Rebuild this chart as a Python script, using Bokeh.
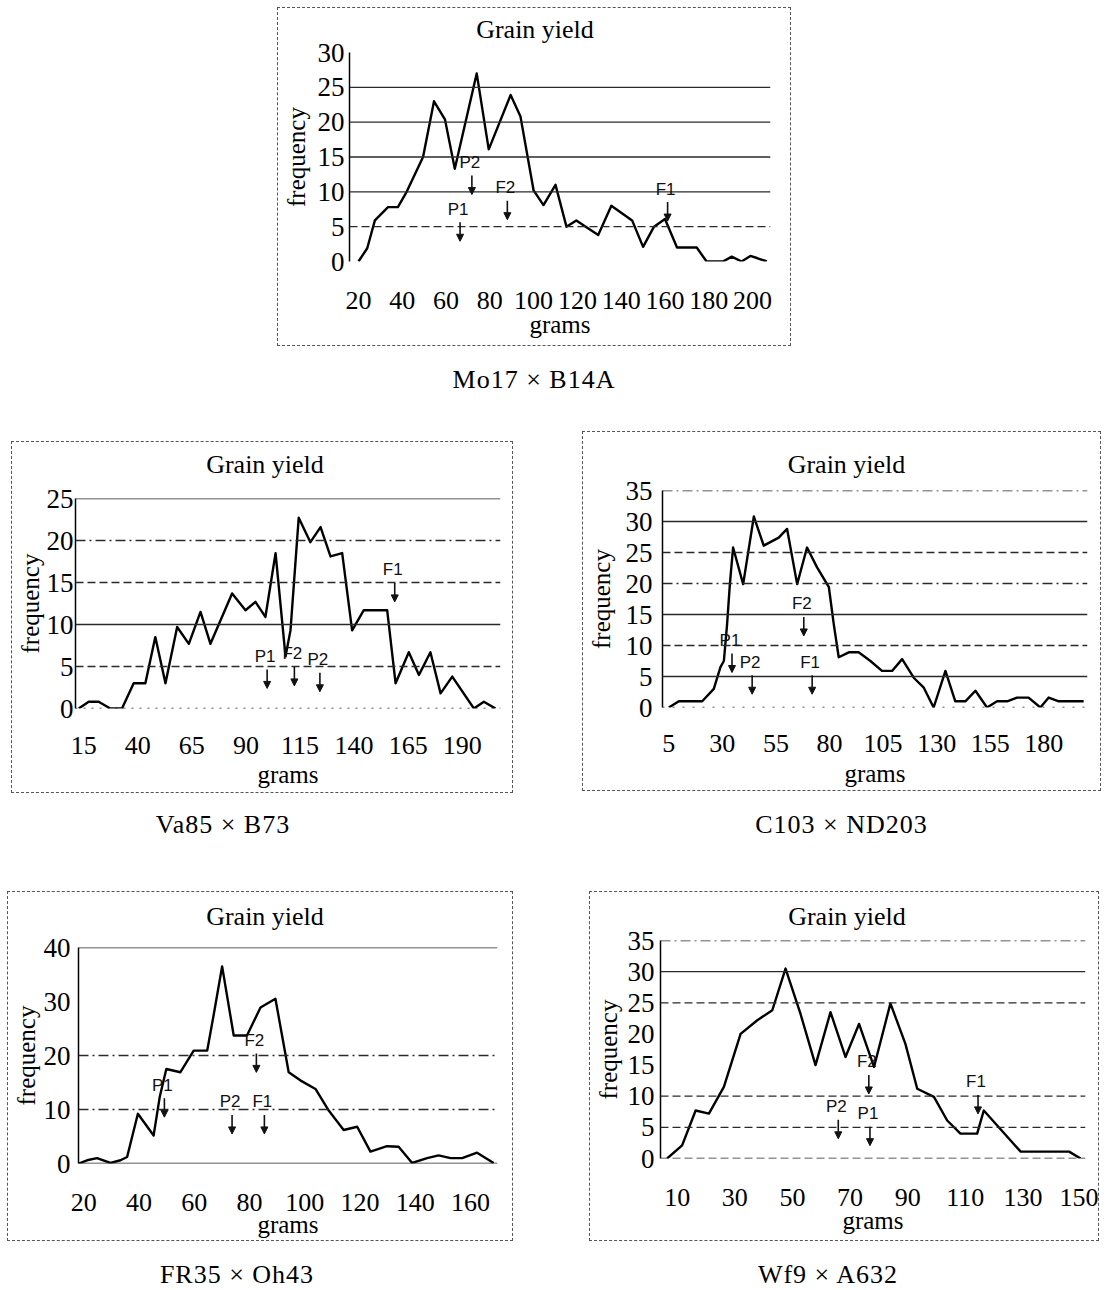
from bokeh.plotting import figure
from bokeh.models import (Range1d, FixedTicker, Span, Arrow, NormalHead,
                          LabelSet, Div, Spacer, ColumnDataSource)
from bokeh.layouts import column, row
from bokeh.core.properties import value
from bokeh.embed import file_html
from bokeh.resources import INLINE

TITLE = "Grain yield"
X_LABEL = "grams"
Y_LABEL = "frequency"

# ---------------- data ----------------
# Panel 1: Mo17 x B14A
p1_cross = "Mo17 × B14A"
p1_grams = [20, 24, 27.5, 33.5, 38, 42, 49.5, 54.5, 59.5, 64, 74, 79.5, 89.5, 94,
            100, 104.5, 110, 115, 119.5, 129.5, 135.5, 145, 150, 155, 160, 165.5,
            174.5, 179, 186.5, 190.5, 195, 199, 202, 206.5]
p1_freq = [0, 1.9, 5.9, 7.8, 7.8, 10, 15, 23, 20.4, 13.3, 27, 16.1, 23.9, 20.8,
           10.2, 8.1, 11, 5, 5.9, 3.8, 8, 5.9, 2.1, 5, 6.1, 2,
           2, 0, 0, 0.7, 0, 0.8, 0.5, 0]
p1_xticks = [20, 40, 60, 80, 100, 120, 140, 160, 180, 200]
p1_yticks = [0, 5, 10, 15, 20, 25, 30]
p1_marks = ["P2", "P1", "F2", "F1"]
p1_mark_grams = [71.8, 66.4, 88.0, 161.2]
p1_mark_freq = [14.2, 7.5, 10.6, 10.4]

# Panel 2: Va85 x B73
p2_cross = "Va85 × B73"
p2_grams = [12.7, 17.3, 21.9, 27.3, 32.7, 38.1, 43.5, 48.1, 52.8, 58.2, 63.6, 69,
            73.6, 83.6, 89.8, 94.4, 99, 103.7, 108.3, 110.6, 114.4, 119.8, 124.5,
            129.1, 134.5, 139.1, 144.5, 155.3, 159.2, 165.3, 170, 175.3, 180,
            185.4, 195.4, 200, 205.4]
p2_freq = [0, 0.8, 0.8, 0, 0, 3, 3, 8.5, 3, 9.7, 7.7, 11.5,
           7.7, 13.7, 11.7, 12.7, 10.9, 18.5, 6.2, 9.3, 22.7, 19.8, 21.6,
           18.1, 18.5, 9.3, 11.7, 11.7, 3, 6.7, 4, 6.7, 1.8,
           3.8, 0, 0.8, 0]
p2_xticks = [15, 40, 65, 90, 115, 140, 165, 190]
p2_yticks = [0, 5, 10, 15, 20, 25]
p2_marks = ["F1", "P1", "F2", "P2"]
p2_mark_grams = [158.8, 99.8, 112.4, 124.2]
p2_mark_freq = [16.5, 6.2, 6.5, 5.8]

# Panel 3: C103 x ND203
p3_cross = "C103 × ND203"
p3_grams = [5, 9.7, 20.6, 26, 29.1, 30.7, 32.2, 33.5, 35, 39.7, 44.7, 49.3, 56.3,
            60.2, 64.9, 69.5, 74.2, 79.7, 82, 84.3, 89, 93.6, 99.1, 104.5, 109.2,
            113.9, 119.3, 124, 128.6, 134.1, 138.7, 143.4, 148.1, 153.5, 158.2,
            162.9, 167.5, 172.9, 178.4, 182.3, 187, 198.6]
p3_freq = [0, 1, 1, 3, 6.5, 7.5, 13.4, 19.9, 25.8, 19.9, 30.8, 26.1, 27.4,
           28.8, 19.9, 25.8, 22.6, 19.4, 13.4, 8.1, 8.9, 8.9, 7.5, 5.9, 5.9,
           7.8, 4.8, 3.2, 0, 5.9, 1, 1, 2.7, 0, 1,
           1, 1.6, 1.6, 0, 1.6, 1, 1]
p3_xticks = [5, 30, 55, 80, 105, 130, 155, 180]
p3_yticks = [0, 5, 10, 15, 20, 25, 30, 35]
p3_marks = ["P1", "P2", "F2", "F1"]
p3_mark_grams = [34.5, 43.9, 68.0, 71.9]
p3_mark_freq = [10.8, 7.3, 16.7, 7.3]

# Panel 4: FR35 x Oh43
p4_cross = "FR35 × Oh43"
p4_grams = [18.2, 21.2, 24.8, 29.7, 33.3, 35.7, 39.6, 45.3, 47.5, 49.9, 55, 59.8,
            64.7, 67.1, 70.1, 74.3, 79.1, 84, 89.4, 94.2, 98.4, 103.9, 108.7,
            114.1, 119, 123.8, 129.8, 134, 138.9, 144.3, 148.5, 152.8, 157,
            162.4, 168.4]
p4_freq = [0, 0.6, 1, 0.1, 0.6, 1.2, 9.2, 5.2, 12.3, 17.5, 16.9, 20.9,
           20.9, 27.7, 36.5, 23.7, 23.7, 28.9, 30.5, 16.9, 15.4, 13.8, 9.8,
           6.2, 6.8, 2.2, 3.2, 3.1, 0.1, 1, 1.5, 1, 1,
           2, 0.1]
p4_xticks = [20, 40, 60, 80, 100, 120, 140, 160]
p4_yticks = [0, 10, 20, 30, 40]
p4_marks = ["P1", "F2", "P2", "F1"]
p4_mark_grams = [49.2, 82.5, 73.7, 85.4]
p4_mark_freq = [14.5, 22.8, 11.4, 11.4]

# Panel 5: Wf9 x A632
p5_cross = "Wf9 × A632"
p5_grams = [6.5, 11.7, 16.4, 21, 26.2, 32, 37.8, 43, 47.6, 52.8, 58, 63.2, 68.4,
            73.1, 78.3, 84, 89.2, 93.3, 99.1, 103.7, 108.3, 114.1, 116.4, 129.2,
            146, 150]
p5_freq = [0, 2.1, 7.7, 7.2, 11.5, 20, 22.2, 23.8, 30.5, 23.2, 15, 23.5, 16.3,
           21.6, 14.7, 24.9, 18.4, 11.2, 9.9, 6.1, 4, 4, 7.7, 1.1,
           1.1, 0]
p5_xticks = [10, 30, 50, 70, 90, 110, 130, 150]
p5_yticks = [0, 5, 10, 15, 20, 25, 30, 35]
p5_marks = ["F2", "P2", "P1", "F1"]
p5_mark_grams = [76.5, 65.9, 76.9, 114.4]
p5_mark_freq = [15.5, 8.3, 7.2, 12.3]

# ---------------- presentation ----------------
SERIF = "Liberation Serif"
SANS = "Liberation Sans"
DASH = "8 4"
DASHDOT = "10 4 2 4"
FIG_TOP = 16   # room above the frame kept inside the figure itself


def make_panel(grams, freq, xticks, yticks, marks, mark_x, mark_y, geo):
    W, H, bl, br, bt, bb = geo["size"]
    x0, x1 = geo["xr"]
    ymax = yticks[-1]
    fh = H - bt - bb
    div_h = bt - FIG_TOP
    p = figure(width=W, height=H - div_h, x_range=Range1d(x0, x1),
               y_range=Range1d(0, ymax),
               output_backend="svg", toolbar_location=None,
               min_border_left=bl, min_border_right=br,
               min_border_top=FIG_TOP, min_border_bottom=bb,
               background_fill_color="white", border_fill_alpha=0)
    p.outline_line_color = None
    p.xgrid.visible = False
    p.ygrid.visible = False

    for lvl, dash in geo["grid"]:
        p.add_layout(Span(location=lvl, dimension="width", line_color="#2a2a2a",
                          line_width=1.3, line_dash=dash))

    p.line(grams, freq, line_color="black", line_width=2.4, line_join="round")

    xa = p.xaxis[0]
    xa.ticker = FixedTicker(ticks=xticks)
    xa.axis_line_color = None
    xa.major_tick_line_color = None
    xa.minor_tick_line_color = None
    xa.major_tick_out = 0
    xa.major_tick_in = 0
    xa.major_label_text_font = SERIF
    xa.major_label_text_font_size = "26px"
    xa.major_label_text_color = "black"
    xa.major_label_standoff = geo["xstand"]
    xa.axis_label = X_LABEL
    xa.axis_label_text_font = SERIF
    xa.axis_label_text_font_size = "25px"
    xa.axis_label_text_font_style = "normal"
    xa.axis_label_text_color = "black"
    xa.axis_label_standoff = geo["xlstand"]

    ya = p.yaxis[0]
    ya.ticker = FixedTicker(ticks=yticks)
    ya.axis_line_color = "black"
    ya.axis_line_width = 1.5
    ya.major_tick_line_color = None
    ya.minor_tick_line_color = None
    ya.major_tick_out = 0
    ya.major_tick_in = 0
    ya.major_label_text_font = SERIF
    ya.major_label_text_font_size = "27px"
    ya.major_label_text_color = "black"
    ya.major_label_standoff = geo["ystand"]
    ya.axis_label = Y_LABEL
    ya.axis_label_text_font = SERIF
    ya.axis_label_text_font_size = "25px"
    ya.axis_label_text_font_style = "normal"
    ya.axis_label_text_color = "black"
    ya.axis_label_standoff = geo["ylstand"]

    # parent / generation mean markers
    ppu = fh / ymax
    src = ColumnDataSource(dict(
        name=marks, x=mark_x, y=mark_y,
        ys=[v - 13 / ppu for v in mark_y],
        ye=[v - 32 / ppu for v in mark_y]))
    p.add_layout(LabelSet(x="x", y="y", text="name", source=src,
                          text_align="center", text_baseline="middle",
                          text_font=value(SANS), text_font_size=value("17px"),
                          text_color="#111", x_offset=-2))
    p.add_layout(Arrow(x_start="x", y_start="ys", x_end="x", y_end="ye", source=src,
                       line_width=1.6, line_color="#111",
                       end=NormalHead(size=7, fill_color="#111", line_color="#111")))

    title = Div(text=TITLE, width=W, height=div_h, margin=0,
                styles={"font-family": SERIF, "font-size": "26px",
                        "text-align": "center", "color": "black",
                        "line-height": f"{2 * geo['title_c']}px",
                        "text-indent": f"{2 * geo['title_dx']}px",
                        "white-space": "nowrap"})
    return column(title, p, spacing=0,
                  styles={"outline": "1px dashed #555"})


geo1 = dict(size=(512, 337, 71, 20, 44, 84), xr=(15.9, 208.2), xstand=30, xlstand=-1,
            ystand=5, ylstand=5, title_c=22, title_dx=1,
            grid=[(5, DASH), (10, "solid"), (15, "solid"), (20, "solid"), (25, "solid")])
geo2 = dict(size=(500, 350, 63, 12, 56, 84), xr=(11.2, 207.7), xstand=28, xlstand=4,
            ystand=2, ylstand=0, title_c=23, title_dx=3,
            grid=[(0, "2 6"), (5, DASH), (10, "solid"), (15, DASH), (20, DASHDOT), (25, "solid")])
geo3 = dict(size=(517, 358, 79, 13, 58, 83), xr=(2.06, 200.4), xstand=27, xlstand=5,
            ystand=10, ylstand=8, title_c=33, title_dx=5,
            grid=[(0, "2 8"), (5, "solid"), (10, DASH), (15, "solid"), (20, DASHDOT),
                  (25, DASH), (30, "solid"), (35, DASHDOT)])
geo4 = dict(size=(504, 348, 70, 15, 55, 77), xr=(18.1, 169.8), xstand=30, xlstand=-3,
            ystand=8, ylstand=1, title_c=25, title_dx=5,
            grid=[(0, "solid"), (10, DASHDOT), (20, DASHDOT), (40, "solid")])
geo5 = dict(size=(508, 348, 70, 13, 48, 82), xr=(4.2, 151.7), xstand=30, xlstand=-2,
            ystand=6, ylstand=3, title_c=25, title_dx=3,
            grid=[(0, DASH), (5, DASH), (10, DASH), (25, DASH), (30, "solid"), (35, DASHDOT)])

f1 = make_panel(p1_grams, p1_freq, p1_xticks, p1_yticks, p1_marks, p1_mark_grams, p1_mark_freq, geo1)
f2 = make_panel(p2_grams, p2_freq, p2_xticks, p2_yticks, p2_marks, p2_mark_grams, p2_mark_freq, geo2)
f3 = make_panel(p3_grams, p3_freq, p3_xticks, p3_yticks, p3_marks, p3_mark_grams, p3_mark_freq, geo3)
f4 = make_panel(p4_grams, p4_freq, p4_xticks, p4_yticks, p4_marks, p4_mark_grams, p4_mark_freq, geo4)
f5 = make_panel(p5_grams, p5_freq, p5_xticks, p5_yticks, p5_marks, p5_mark_grams, p5_mark_freq, geo5)


def caption(text, width, height=30):
    return Div(text=text, width=width, height=height, margin=0,
               styles={"font-family": SERIF, "font-size": "26px", "text-align": "center",
                       "line-height": "30px", "color": "black", "letter-spacing": "1px",
                       "white-space": "nowrap"})


def sp(w=1, h=1):
    return Spacer(width=w, height=h, margin=0)


layout = column(
    sp(h=8),
    row(sp(w=278),
        column(f1, sp(h=20), caption(p1_cross, 512), spacing=0), spacing=0),
    sp(h=37),
    row(sp(w=12),
        column(sp(h=10), f2, sp(h=18), caption(p2_cross, 422), spacing=0),
        sp(w=71),
        column(f3, sp(h=20), caption(p3_cross, 517), spacing=0), spacing=0),
    sp(h=52),
    row(sp(w=8),
        column(f4, sp(h=20), caption(p4_cross, 458, 28), spacing=0),
        sp(w=78),
        column(f5, sp(h=20), caption(p5_cross, 476, 28), spacing=0), spacing=0),
    spacing=0,
)

with open("out.html", "w") as fh_out:
    fh_out.write(file_html(layout, INLINE))
